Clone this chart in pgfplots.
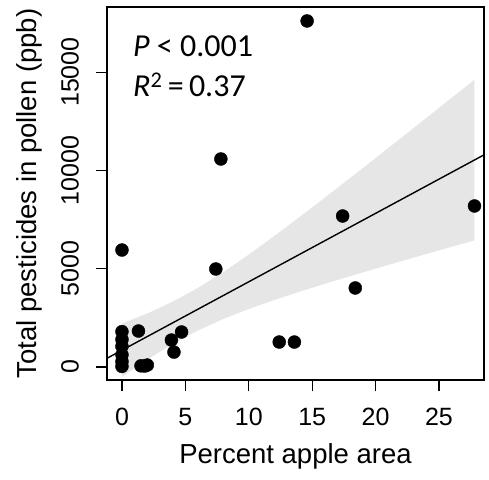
\documentclass[border=0pt]{standalone}
\usepackage{fontspec}
\setmainfont{Liberation Sans}
\newfontfamily\calib{Carlito}
\usepackage{pgfplots}
\pgfplotsset{compat=1.18}
\definecolor{bandgray}{HTML}{E6E6E6}

\begin{document}
\begin{tikzpicture}
\begin{axis}[
  scale only axis,
  width=377pt, height=373pt,
  xmin=-1.18, xmax=28.55,
  ymin=-661, ymax=18311,
  xtick={0,5,10,15,20,25},
  ytick={0,5000,10000,15000},
  scaled y ticks=false,
  /pgf/number format/assume math mode=true,
  yticklabel={\pgfmathprintnumber[fixed,set thousands separator={}]{\tick}},
  tick align=outside,
  xtick pos=bottom, ytick pos=left,
  major tick length=11pt,
  tick style={black, line width=1.1pt},
  axis line style={line width=1.1pt},
  ticklabel style={font=\fontsize{25}{25}\selectfont, inner sep=0pt},
  xticklabel style={anchor=north},
  xticklabel shift=17pt,
  yticklabel style={rotate=90, anchor=south},
  yticklabel shift=17pt,
  xlabel={Percent apple area},
  ylabel={Total pesticides in pollen (ppb)},
  label style={font=\fontsize{27.5}{27.5}\selectfont},
  xlabel style={at={(axis description cs:0.5,-0.204)}, anchor=center},
  ylabel style={at={(axis description cs:-0.207,0.5)}, anchor=center},
]
% confidence band
\addplot[fill=bandgray, draw=none] coordinates {
  (0,2210) (2,2725) (4,3322) (6,4025) (8,4832) (10,5718) (12,6656)
  (14,7625) (16,8615) (18,9617) (20,10628) (22,11646) (24,12668)
  (26,13693) (27.8,14617)
  (27.8,6441) (26,6113) (24,5746) (22,5376) (20,5002) (18,4621)
  (16,4231) (14,3829) (12,3406) (10,2952) (8,2446) (6,1861)
  (4,1172) (2,378) (0,-500)
} -- cycle;
% regression line
\addplot[black, line width=1.4pt] coordinates {(-1.2,437) (29,10947)};
% data
\addplot[only marks, mark=*, mark size=6.5pt, black] coordinates {
  (0,5950) (0,1800) (0,1400) (0,1050) (0,620) (0,280) (0,30)
  (1.3,1830) (1.5,60) (1.8,50) (2.0,100)
  (3.9,1370) (4.1,760) (4.7,1780)
  (7.4,4985) (7.8,10580)
  (12.4,1270) (13.6,1270) (14.6,17600)
  (17.4,7680) (18.4,4020) (27.8,8190)
};
\node[anchor=base west, font=\calib\fontsize{32}{32}\selectfont, inner sep=0pt]
  at (axis description cs:0.069,0.866) {\textit{P} < 0.001};
\node[anchor=base west, font=\calib\fontsize{32}{32}\selectfont, inner sep=0pt]
  at (axis description cs:0.069,0.759) {\textit{R}\textsuperscript{2}\,=\,0.37};
\end{axis}
\pgfresetboundingbox
\path[use as bounding box] (-107pt,-99pt) rectangle (382pt,380pt);
\end{tikzpicture}
\end{document}
